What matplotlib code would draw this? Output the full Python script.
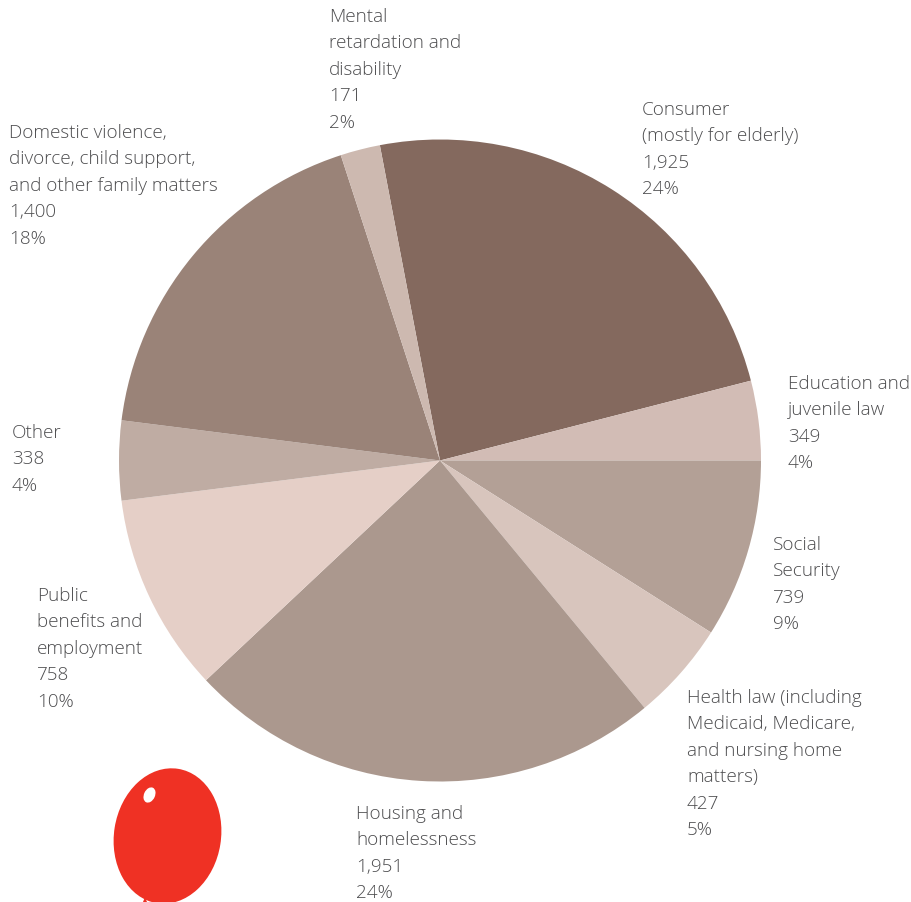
import matplotlib
matplotlib.use('Agg')
import matplotlib.pyplot as plt
from matplotlib.patches import Ellipse, Polygon

plt.rcParams['font.family'] = ['Open Sans', 'DejaVu Sans']

W, H = 911, 903

# clockwise from the top of the consumer slice
labels = ['Consumer\n(mostly for elderly)', 'Education and\njuvenile law', 'Social\nSecurity',
          'Health law (including\nMedicaid, Medicare,\nand nursing home\nmatters)',
          'Housing and\nhomelessness', 'Public\nbenefits and\nemployment', 'Other',
          'Domestic violence,\ndivorce, child support,\nand other family matters',
          'Mental\nretardation and\ndisability']
counts = [1925, 349, 739, 427, 1951, 758, 338, 1400, 171]
shares = [24, 4, 9, 5, 24, 10, 4, 18, 2]
colors = ['#84695e', '#d2bcb5', '#b3a096', '#d8c5bd', '#ab988e', '#e5cfc7', '#bfaca3', '#9a8378', '#cdb9b0']

# top-left pixel of each label block
label_x = [642, 788, 773, 687, 356, 37, 12, 9, 329]
label_y = [101, 375, 536, 689, 805, 587, 424, 124, 8]

fig = plt.figure(figsize=(W / 100, H / 100), dpi=100)
bg = fig.add_axes([0, 0, 1, 1])
bg.set_xlim(0, W)
bg.set_ylim(H, 0)
bg.axis('off')

# pie spans about 119-761 px across, centred near (440, 461)
cx, cy, r = 440, 461.5, 321
ax = fig.add_axes([(cx - r) / W, 1 - (cy + r) / H, 2 * r / W, 2 * r / H])
ax.pie(shares, colors=colors, startangle=100.8, counterclock=False, radius=1,
       wedgeprops={'linewidth': 0})
ax.set_xlim(-1, 1)
ax.set_ylim(-1, 1)

for name, cnt, pct, x, y in zip(labels, counts, shares, label_x, label_y):
    bg.text(x, y, f'{name}\n{cnt:,}\n{pct}%', fontsize=13.6, fontweight='light', color='#4d4d4f',
            va='top', ha='left', linespacing=1.6)

# red balloon in the lower left corner
bg.add_patch(Ellipse((167.5, 837), 107, 136, angle=9, color='#ef3124', lw=0))
bg.add_patch(Ellipse((149.5, 796), 11, 16, angle=25, color='white', lw=0))
bg.add_patch(Polygon([(143, 903), (145, 898), (147, 903)], color='#ef3124', lw=0))

fig.savefig('out.png', dpi=100)
